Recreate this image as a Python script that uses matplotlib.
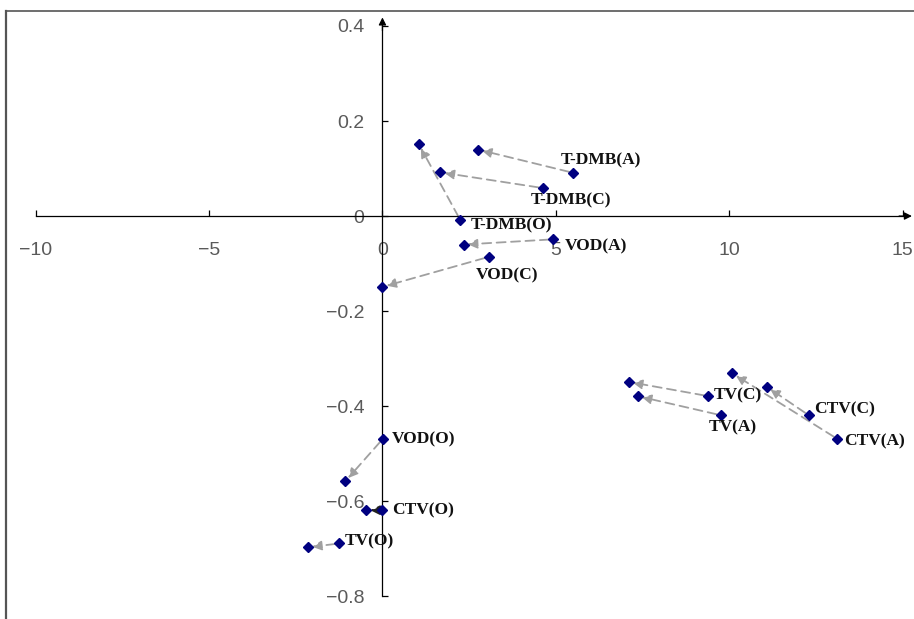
import matplotlib
matplotlib.use("Agg")
import matplotlib.pyplot as plt
from matplotlib.lines import Line2D
from matplotlib.ticker import FuncFormatter

labels = ["T-DMB(A)", "T-DMB(C)", "T-DMB(O)", "VOD(A)", "VOD(C)", "VOD(O)",
          "CTV(O)", "TV(O)", "TV(C)", "TV(A)", "CTV(C)", "CTV(A)"]
start_x = [5.50, 4.62, 2.25, 4.92, 3.06, 0.01, 0.00, -1.24, 9.40, 9.75, 12.29, 13.12]
start_y = [0.091, 0.059, -0.009, -0.049, -0.086, -0.469, -0.619, -0.689, -0.379, -0.419, -0.419, -0.469]
end_x = [2.75, 1.67, 1.05, 2.34, 0.00, -1.07, -0.47, -2.15, 7.10, 7.36, 11.08, 10.09]
end_y = [0.140, 0.092, 0.151, -0.060, -0.149, -0.558, -0.619, -0.697, -0.349, -0.379, -0.359, -0.331]
label_offsets = [(-12, 12), (-12, -12), (10, -5), (12, -7), (-13, -18), (9, 0),
                 (10, 0), (5, 2), (5, 1), (-12, -12), (6, 6), (7, -2)]
x_ticks = [-10, -5, 0, 5, 10, 15]
y_ticks = [-0.8, -0.6, -0.4, -0.2, 0, 0.2, 0.4]

fig = plt.figure(figsize=(9.14, 6.19), dpi=100)
ax = fig.add_axes([0, 0, 1, 1])
ax.set_xlim(-11.03, 15.33)
ax.set_ylim(-0.848, 0.4547)

for s in ["top", "right"]:
    ax.spines[s].set_visible(False)
ax.spines["left"].set_position(("data", 0))
ax.spines["bottom"].set_position(("data", 0))
ax.spines["left"].set_bounds(-0.8, 0.40)
ax.spines["bottom"].set_bounds(-10, 15.0)
for s in ["left", "bottom"]:
    ax.spines[s].set_linewidth(0.9)
    ax.spines[s].set_color("black")

ax.annotate("", xy=(0, 0.418), xytext=(0, 0.39),
            arrowprops=dict(arrowstyle="-|>", color="black", lw=0.9, mutation_scale=11,
                            shrinkA=0, shrinkB=0))
ax.annotate("", xy=(15.27, 0), xytext=(14.9, 0),
            arrowprops=dict(arrowstyle="-|>", color="black", lw=0.9, mutation_scale=11,
                            shrinkA=0, shrinkB=0))

ax.set_xticks(x_ticks)
ax.set_yticks(y_ticks)
ax.xaxis.set_major_formatter(FuncFormatter(lambda v, p: f"{int(round(v))}".replace("-", "\u2212")))
ax.yaxis.set_major_formatter(FuncFormatter(lambda v, p: "0" if abs(v) < 1e-9 else f"{v:.1f}".replace("-", "\u2212")))
ax.tick_params(axis="x", direction="in", length=4, width=0.9, pad=19,
               labelsize=14, labelcolor="#5a5a5a")
ax.tick_params(axis="y", direction="in", length=4, width=0.9, pad=13,
               labelsize=14, labelcolor="#5a5a5a")
for t in ax.get_xticklabels() + ax.get_yticklabels():
    t.set_fontfamily("Liberation Sans")

for i, lab in enumerate(labels):
    col = "#222222" if lab == "CTV(O)" else "#a0a0a0"
    ax.annotate("", xy=(end_x[i], end_y[i]), xytext=(start_x[i], start_y[i]),
                arrowprops=dict(arrowstyle="-|>", color=col, lw=1.3, linestyle=(0, (5, 3)),
                                mutation_scale=14, shrinkA=3, shrinkB=3), zorder=2)
    ax.plot([start_x[i], end_x[i]], [start_y[i], end_y[i]], linestyle="none",
            marker="D", markersize=5.5, color="#000080", zorder=3)
    ax.annotate(lab, xy=(start_x[i], start_y[i]), xytext=label_offsets[i],
                textcoords="offset pixels", ha="left", va="center",
                fontsize=12.5, fontweight="bold", fontfamily="Liberation Serif",
                color="#111111", zorder=4)

fig.add_artist(Line2D([6 / 914, 1], [1 - 11 / 619, 1 - 11 / 619], transform=fig.transFigure,
                      color="#555555", lw=1.2))
fig.add_artist(Line2D([6 / 914, 6 / 914], [0, 1 - 11 / 619], transform=fig.transFigure,
                      color="#555555", lw=1.6))

fig.savefig("out.png", dpi=100, facecolor="white")
